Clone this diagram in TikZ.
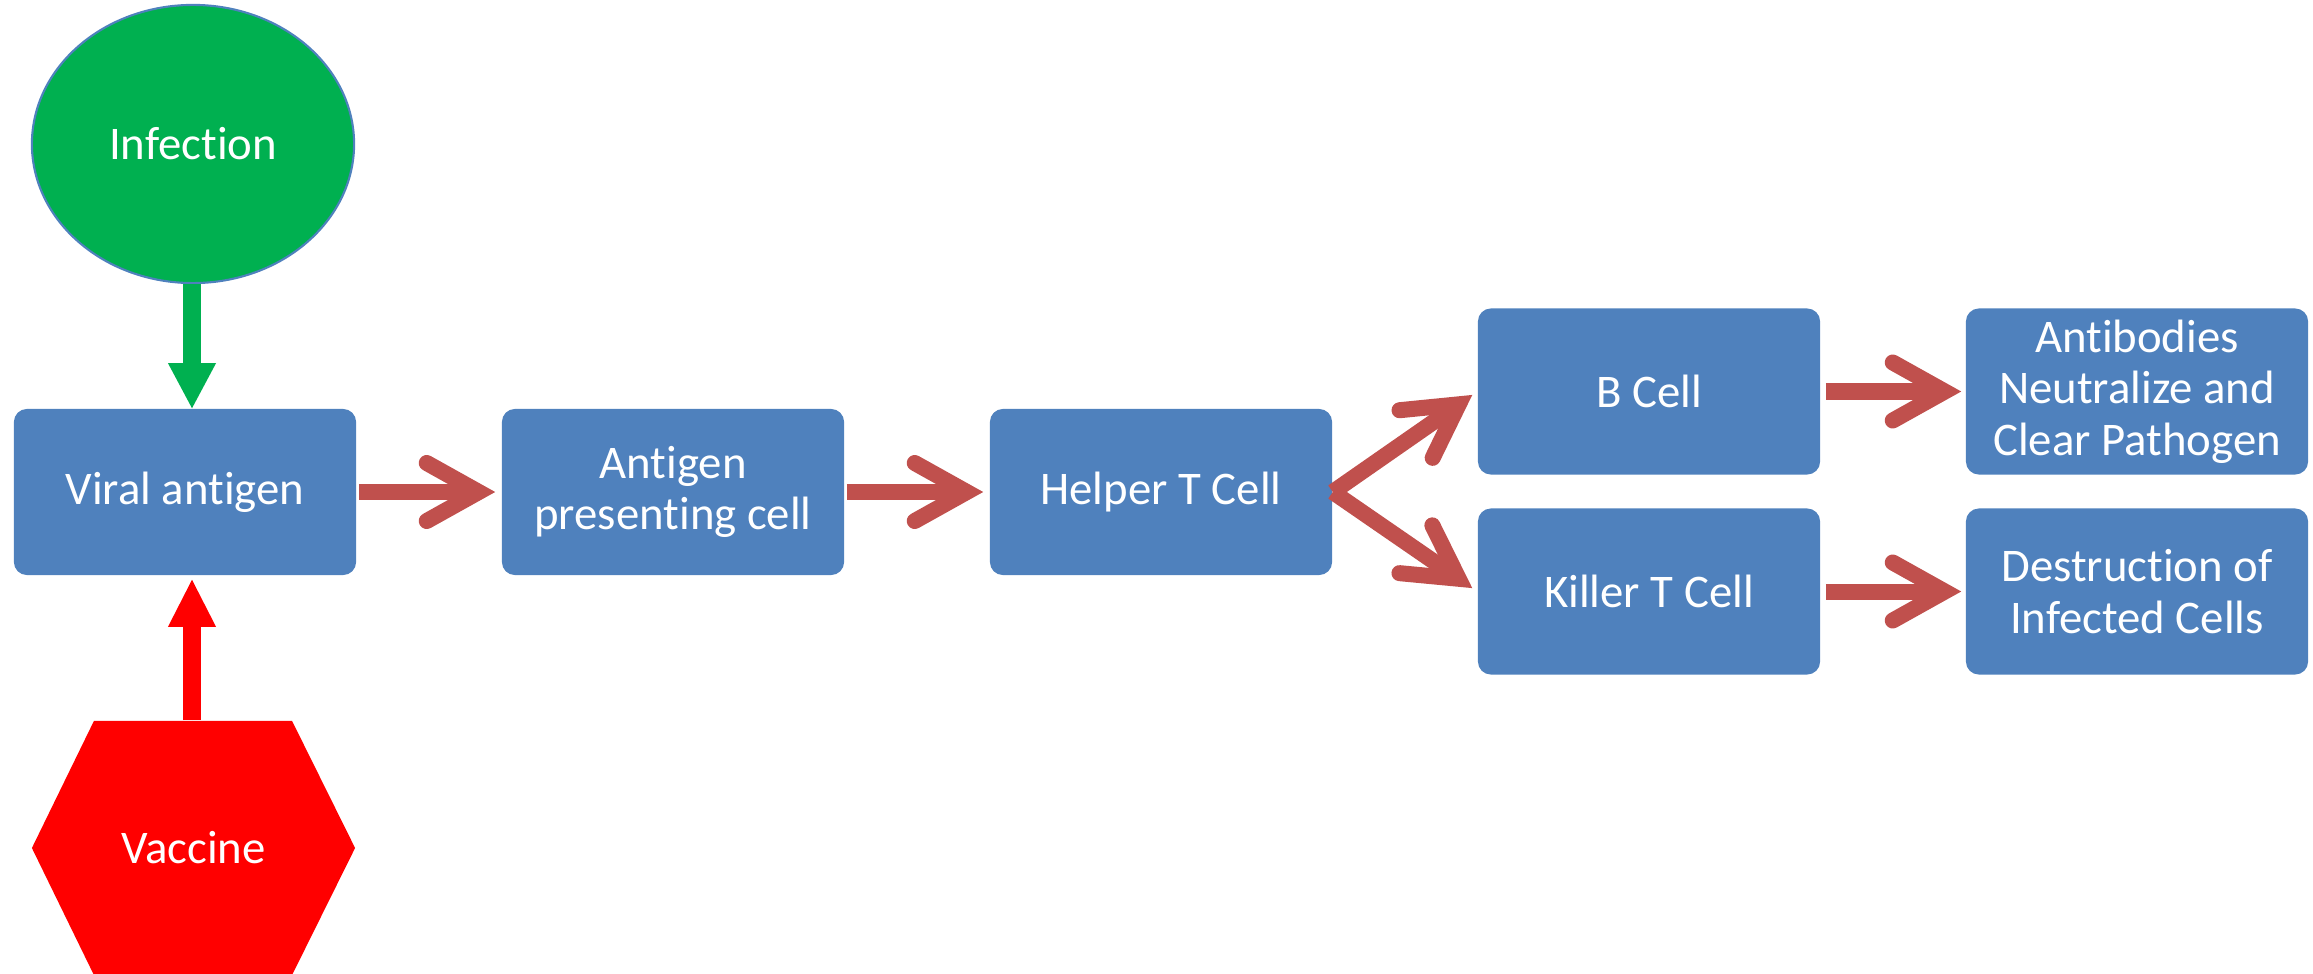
\documentclass[tikz,border=0pt]{standalone}
\usepackage{fontspec}
\setmainfont{Carlito}[Ligatures=NoCommon]
\usetikzlibrary{arrows.meta,shapes.geometric}
\definecolor{boxblue}{HTML}{4F81BD}
\definecolor{arrred}{HTML}{C0504D}
\definecolor{infgreen}{HTML}{00B050}
\definecolor{vacred}{HTML}{FF0000}
\begin{document}
\begin{tikzpicture}[x=0.01cm, y=-0.01cm,
  lbl/.style={text=white, align=center, font=\fontsize{13.3}{14.7}\selectfont},
  box/.style={lbl, rectangle, rounded corners=0.13cm, fill=boxblue, minimum width=3.42cm, minimum height=1.66cm, inner sep=0pt},
  chev/.style={draw=arrred, line width=0.16cm, -{Straight Barb[length=0.52cm, width=0.58cm, line cap=round, line join=miter]}},
  blockgreen/.style={draw=infgreen, fill=infgreen, line width=0.17cm, -{Triangle[width=0.48cm, length=0.45cm, line width=0pt]}},
  blockred/.style={draw=vacred, fill=vacred, line width=0.17cm, -{Triangle[width=0.48cm, length=0.47cm, line width=0pt]}},
  hexnode/.style={lbl, rectangle, minimum width=3.23cm, minimum height=2.54cm, inner sep=0pt,
    path picture={\fill[vacred] ([xshift=0.62cm]path picture bounding box.north west) -- ([xshift=-0.63cm]path picture bounding box.north east) -- (path picture bounding box.east) -- ([xshift=-0.63cm]path picture bounding box.south east) -- ([xshift=0.62cm]path picture bounding box.south west) -- (path picture bounding box.west) -- cycle;}}
]
\useasboundingbox (0,0) rectangle (2313,973);

% nodes
\node[lbl, ellipse, fill=infgreen, draw=boxblue, line width=0.6pt, minimum width=3.22cm, minimum height=2.78cm, inner sep=0pt] (inf) at (193,144) {Infection};
\node[hexnode] (vac) at (193.5,848) {Vaccine};

\node[box] (va) at (185,492) {Viral antigen};
\node[box] (apc) at (673,492) {Antigen\\presenting cell};
\node[box] (helper) at (1161,492) {Helper T Cell};
\node[box] (bcell) at (1649,391.5) {B Cell};
\node[box] (killer) at (1649,591.5) {Killer T Cell};
\node[box] (anti) at (2137,391.5) {Antibodies\\Neutralize and\\Clear Pathogen};
\node[box] (dest) at (2137,591.5) {Destruction of\\Infected Cells};

% vertical block arrows
\draw[blockgreen] (inf.south -| 192,0) -- (192,0 |- va.north);
\draw[blockred, shorten >=0.04cm] (vac.north -| 192,0) -- (192,0 |- va.south);

% chevron arrows
\draw[chev, shorten <=0.02cm, shorten >=0.06cm] (va.east) -- (apc.west);
\draw[chev, shorten <=0.02cm, shorten >=0.06cm] (apc.east) -- (helper.west);
\draw[chev, shorten >=0.06cm] (helper.east) -- (bcell.west);
\draw[chev, shorten >=0.06cm] (helper.east) -- (killer.west);
\draw[chev, shorten <=0.05cm, shorten >=0.04cm] (bcell.east) -- (anti.west);
\draw[chev, shorten <=0.05cm, shorten >=0.04cm] (killer.east) -- (dest.west);
\end{tikzpicture}
\end{document}
